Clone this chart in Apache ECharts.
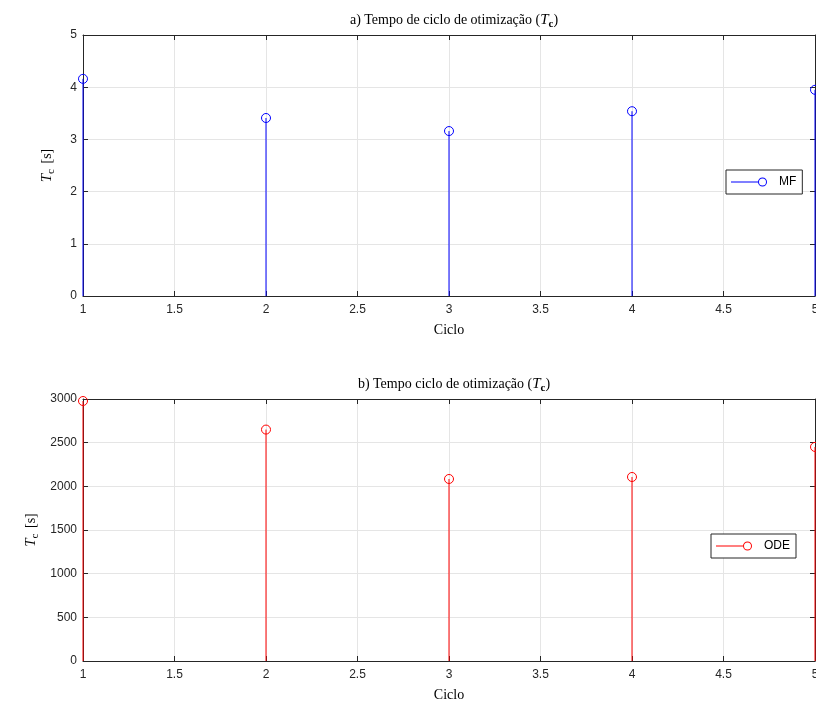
<!DOCTYPE html>
<html><head><meta charset="utf-8">
<script src="https://cdn.jsdelivr.net/npm/echarts@6/dist/echarts.min.js"></script>
<style>html,body{margin:0;padding:0;background:#fff}#c{width:816px;height:708px}</style>
</head><body><div id="c"></div>
<script>
const cycles = [1, 2, 3, 4, 5];
const mfValues = [4.16, 3.41, 3.16, 3.54, 3.95];
const odeValues = [2977, 2650, 2084, 2107, 2451];
const xTicks = [1, 1.5, 2, 2.5, 3, 3.5, 4, 4.5, 5];
const topYTicks = [0, 1, 2, 3, 4, 5];
const botYTicks = [0, 500, 1000, 1500, 2000, 2500, 3000];

const serif = '"Liberation Serif","DejaVu Serif",serif';
const sans = '"Liberation Sans",Arial,sans-serif';
const axColor = '#262626';

const chart = echarts.init(document.getElementById('c'), null, {renderer: 'canvas'});

function stemSeries(name, color, xi, yi, vals) {
  return {
    name: name, type: 'custom', xAxisIndex: xi, yAxisIndex: yi, clip: false,
    data: cycles.map((c, i) => [c, vals[i]]),
    itemStyle: {color: color},
    renderItem: function (params, api) {
      const x = api.value(0), y = api.value(1);
      const p0 = api.coord([x, 0]);
      const p1 = api.coord([x, y]);
      return {type: 'group', children: [
        {type: 'line', shape: {x1: p0[0], y1: p0[1], x2: p1[0], y2: p1[1]}, style: {stroke: color, lineWidth: 1}},
        {type: 'circle', shape: {cx: p1[0], cy: p1[1], r: 4.5}, style: {fill: 'none', stroke: color, lineWidth: 1}}
      ]};
    }
  };
}

function xAxisPair(gi) {
  return [
    {type: 'value', gridIndex: gi, min: 1, max: 5, interval: 0.5, position: 'bottom',
     name: 'Ciclo', nameLocation: 'middle', nameGap: 27,
     nameTextStyle: {fontFamily: serif, fontSize: 14, color: '#000'},
     axisLine: {show: true, onZero: false, lineStyle: {color: axColor, width: 1}},
     axisTick: {show: true, inside: true, length: 5, lineStyle: {color: axColor}},
     axisLabel: {fontFamily: sans, fontSize: 12, color: axColor, margin: 8,
       formatter: v => String(v)},
     splitLine: {show: true, lineStyle: {color: '#e5e5e5', width: 1}}},
    {type: 'value', gridIndex: gi, min: 1, max: 5, interval: 0.5, position: 'top',
     axisLine: {show: true, onZero: false, lineStyle: {color: axColor, width: 1}},
     axisTick: {show: true, inside: true, length: 5, lineStyle: {color: axColor}},
     axisLabel: {show: false}, splitLine: {show: false}}
  ];
}

function yAxisPair(gi, max, interval, gap) {
  return [
    {type: 'value', gridIndex: gi, min: 0, max: max, interval: interval, position: 'left',
     name: '{i|T}{s|c}{n| [s]}', nameLocation: 'middle', nameRotate: 90,
     nameGap: gap, nameMoveOverlap: false,
     nameTextStyle: {fontFamily: serif, color: '#000', rich: {
       i: {fontFamily: serif, fontStyle: 'italic', fontSize: 15, color: '#000'},
       s: {fontFamily: serif, fontSize: 11, color: '#000', padding: [8, 2, 0, 0]},
       n: {fontFamily: serif, fontSize: 14, color: '#000'}}},
     axisLine: {show: true, onZero: false, lineStyle: {color: axColor, width: 1}},
     axisTick: {show: true, inside: true, length: 5, lineStyle: {color: axColor}},
     axisLabel: {fontFamily: sans, fontSize: 12, color: axColor, margin: 6,
       formatter: v => String(v)},
     splitLine: {show: true, lineStyle: {color: '#e5e5e5', width: 1}}},
    {type: 'value', gridIndex: gi, min: 0, max: max, interval: interval, position: 'right',
     axisLine: {show: true, onZero: false, lineStyle: {color: axColor, width: 1}},
     axisTick: {show: true, inside: true, length: 5, lineStyle: {color: axColor}},
     axisLabel: {show: false}, splitLine: {show: false}}
  ];
}

const titleRich = {
  n: {fontFamily: serif, fontSize: 14, fontWeight: 'normal', color: '#000'},
  i: {fontFamily: serif, fontSize: 15, fontStyle: 'italic', fontWeight: 'normal', color: '#000'},
  s: {fontFamily: serif, fontSize: 11, fontWeight: 'bold', color: '#000', padding: [9, 0, 0, 0]}
};

// line segment as thin bar + hollow ring (outer cw, inner ccw)
const legendIcon = 'path://M0,4.5L27,4.5L27,5.5L0,5.5Z' +
  'M36,5A4.5,4.5,0,1,1,27,5A4.5,4.5,0,1,1,36,5Z' +
  'M35,5A3.5,3.5,0,1,0,28,5A3.5,3.5,0,1,0,35,5Z';

function legendCfg(name, color, left, top) {
  return {data: [name], left: left, top: top, orient: 'vertical', padding: [6, 6, 6, 5],
    backgroundColor: '#fff', borderColor: '#262626', borderWidth: 1, borderRadius: 0,
    itemWidth: 36, itemHeight: 9, itemGap: 0, icon: legendIcon,
    itemStyle: {color: color, borderWidth: 0},
    textStyle: {fontFamily: sans, fontSize: 12, color: '#000', padding: [0, 0, 0, 7]}};
}

const option = {
  animation: false,
  backgroundColor: '#fff',
  title: [
    {text: '{n|a) Tempo de ciclo de otimização (}{i|T}{s|c}{n|)}', left: 449, top: 5, textAlign: 'center',
     textStyle: {fontWeight: 'normal', rich: titleRich}},
    {text: '{n|b) Tempo ciclo de otimização (}{i|T}{s|c}{n|)}', left: 449, top: 369, textAlign: 'center',
     textStyle: {fontWeight: 'normal', rich: titleRich}}
  ],
  grid: [
    {left: 83, top: 35, width: 732, height: 261, outerBoundsMode: 'none', containLabel: false},
    {left: 83, top: 399, width: 732, height: 262, outerBoundsMode: 'none', containLabel: false}
  ],
  xAxis: [...xAxisPair(0), ...xAxisPair(1)],
  yAxis: [...yAxisPair(0, 5, 1, 26), ...yAxisPair(1, 3000, 500, 42)],
  legend: [legendCfg('MF', '#0000ff', 726, 170), legendCfg('ODE', '#ff0000', 711, 534)],
  series: [
    stemSeries('MF', '#0000ff', 0, 0, mfValues),
    stemSeries('ODE', '#ff0000', 2, 2, odeValues)
  ]
};
chart.setOption(option);
</script></body></html>
